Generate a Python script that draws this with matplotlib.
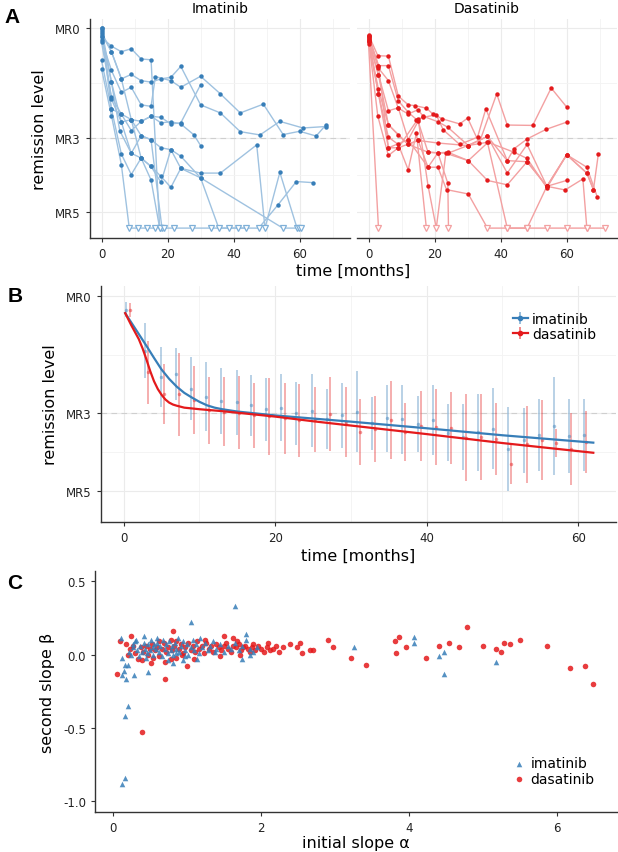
import numpy as np
import matplotlib.pyplot as plt
from matplotlib.lines import Line2D

plt.rcParams['font.family'] = ['DejaVu Sans']
plt.rcParams['axes.unicode_minus'] = False

U = 5.45  # level used for "below detection" samples (open triangles)

# ---- panel A: individual patient courses (months, remission level) ----
im_t = [
    [0, 3, 6, 9, 12, 15, 17.6],
    [0, 3, 6, 9, 12, 15, 18, 21, 24, 30, 36, 42, 48, 54, 61, 68],
    [0, 3, 6, 9, 12, 15, 16.3, 21, 24, 30, 36, 42, 49, 55, 60, 65, 68],
    [0, 3, 6, 9, 12, 15, 18, 21, 24, 28, 30],
    [0, 3, 5.5, 9, 12, 15, 18, 21, 24, 30, 35.5, 38.5, 41.2, 43.9],
    [0, 3, 6, 9, 12, 15, 18, 21, 24, 30, 36, 47, 49.5, 54, 59.2],
    [0, 3, 6, 8.4, 11.1, 13.9, 16.3],
    [0, 3, 6, 9, 12, 15, 18.3, 21.9, 27.4, 33.2, 47.6, 53.4, 59, 64],
    [0, 3, 6, 9, 12, 15, 18, 21, 24, 30],
    [0, 3, 6, 9, 12, 15, 17.6, 18.9],
    [0, 3, 6, 9, 12, 15, 18, 21, 24, 30, 54.9, 59.9, 60.4],
]
im_y = [
    [0.25, 0.49, 0.64, 0.56, 0.84, 0.86, U],
    [0.11, 0.64, 1.38, 1.26, 1.43, 1.47, 1.38, 1.34, 1.04, 2.09, 2.31, 2.82, 2.91, 2.54, 2.72, 2.68],
    [0.31, 1.15, 1.75, 1.61, 2.09, 2.13, 1.32, 1.43, 1.61, 1.31, 1.79, 2.31, 2.07, 2.90, 2.81, 2.94, 2.63],
    [0.38, 1.88, 2.34, 2.49, 2.54, 2.40, 2.58, 2.55, 2.61, 2.91, 3.20],
    [0.00, 1.47, 2.79, 3.41, 2.93, 3.04, 3.26, 3.31, 3.49, 4.08, U, U, U, U],
    [0.88, 2.20, 3.43, 3.99, 3.54, 3.77, 4.04, 4.34, 3.82, 3.95, 3.95, 3.18, U, 3.93, U],
    [1.11, 2.38, 3.72, U, U, U, U],
    [0.05, 1.93, 2.56, 2.49, 2.93, 3.04, U, U, U, U, U, 4.82, 4.18, 4.21],
    [0.00, 2.20, 2.34, 2.79, 2.54, 2.40, 2.43, 2.61, 2.58, 1.54],
    [0.15, 0.64, 1.38, 2.49, 3.54, 4.14, U, U],
    [0.20, 1.47, 2.56, 3.41, 3.54, 3.77, 4.20, 3.31, 3.82, 4.08, U, U, U],
]

da_t = [
    [0, 2.8, 6, 9, 12, 14, 17.5, 19.5, 22.3, 27.6, 30, 33.5, 38.8, 42, 49.7, 55.3, 60],
    [0, 3, 6, 9, 12, 14.5, 16.5, 20.5, 22.6, 27.6, 33, 35.5, 42, 44, 48, 53.7, 60],
    [0, 3, 6, 9, 12, 15, 16.5, 21, 24, 30.2, 36, 42, 48, 54, 60, 66.1, 69.3],
    [0, 3, 6, 9, 12, 15, 18, 21, 24, 30.2, 36.2, 44, 48, 54, 60, 66.1, 68.1, 69.6],
    [0, 3, 6, 9, 12, 15, 18, 21, 23.6, 30.2, 36, 42, 48, 54, 60, 66.1, 71.7],
    [0, 3, 6, 9, 12, 14.5, 17.5],
    [0, 3],
    [0, 2.8, 6, 9, 15, 18, 20.5, 23.4, 30.2, 36, 42, 48, 54, 60],
    [0, 3, 6, 12, 18, 21, 24, 24.2],
    [0, 3, 6, 9, 15, 21, 30, 36, 42, 48, 54, 59.5, 64.9, 66.1],
    [0, 3, 6, 12, 18, 24, 30, 36, 42, 48, 54, 60, 66.1, 68.1],
]
da_y = [
    [0.18, 0.75, 0.76, 1.85, 2.09, 2.11, 2.18, 2.34, 2.47, 2.61, 2.45, 3.13, 1.79, 2.64, 2.65, 1.63, 2.15],
    [0.22, 1.02, 1.02, 1.98, 2.29, 2.49, 2.43, 2.36, 2.77, 3.17, 2.97, 2.20, 3.61, 3.29, 3.02, 2.76, 2.56],
    [0.25, 1.09, 1.43, 2.18, 2.34, 2.22, 2.40, 2.55, 2.70, 3.20, 2.95, 3.95, 3.17, 4.31, 3.45, 3.79, 4.61],
    [0.29, 1.27, 2.25, 2.17, 3.04, 2.54, 3.38, 3.40, 3.38, 3.61, 3.11, 3.38, 3.55, 4.35, 3.45, 3.95, 4.40, 3.42],
    [0.34, 1.67, 2.63, 2.91, 3.17, 3.06, 3.79, 3.79, 4.40, 4.52, U, U, U, U, U, U, U],
    [0.38, 1.79, 2.97, 3.17, 3.86, 2.86, U],
    [0.43, U],
    [0.31, 2.40, 3.47, 3.26, 2.47, 4.29, U, 3.41, 3.61, 4.15, 4.27, 3.64, 4.31, 4.15],
    [0.20, 1.02, 3.26, 3.04, 3.79, 3.40, 4.23, U],
    [0.28, 1.79, 3.26, 3.26, 3.06, 3.13, 3.20, 3.11, U, U, 4.31, 4.41, 4.11, U],
    [0.36, 1.27, 2.63, 3.17, 3.38, 3.41, 3.20, 2.95, 3.61, 3.64, 4.31, 3.45, 3.95, 4.40],
]

# ---- panel B: binned mean +/- sd and fitted course ----
b_im_t = [0.35, 2.86, 4.93, 6.87, 8.85, 10.9, 12.9, 14.9, 16.8, 18.8, 20.8, 22.8, 24.8,
          26.8, 28.8, 30.8, 32.8, 34.8, 36.8, 38.8, 40.8, 42.8, 44.8, 46.8, 48.8,
          50.8, 52.8, 54.8, 56.8, 58.8, 60.8]
b_im_m = [0.34, 1.40, 2.07, 2.00, 2.37, 2.58, 2.69, 2.72, 2.80, 2.90, 2.86, 3.00, 2.94,
          3.16, 3.06, 2.97, 3.26, 3.13, 3.16, 3.27, 3.19, 3.50, 3.62, 3.49, 3.40,
          3.92, 3.70, 3.56, 3.32, 3.59, 3.56]
b_im_sd = [0.19, 0.71, 0.77, 0.67, 0.81, 0.89, 0.84, 0.84, 0.78, 0.81, 0.87, 0.81, 0.94,
           0.77, 0.84, 1.04, 0.68, 0.86, 0.89, 0.72, 0.90, 0.73, 0.85, 0.99, 1.04,
           1.08, 0.84, 0.93, 1.26, 0.94, 0.93]
b_da_t = [0.88, 3.21, 5.28, 7.31, 9.25, 11.27, 13.25, 15.24, 17.17, 19.19, 21.26, 23.16, 25.2,
          27.3, 29.3, 31.2, 33.2, 35.3, 37.2, 39.2, 41.2, 43.2, 45.2, 47.2, 49.2,
          51.2, 53.2, 55.2, 57.1, 59.1, 61.1]
b_da_m = [0.36, 1.95, 2.50, 2.52, 2.66, 2.93, 2.96, 2.99, 3.06, 3.08, 3.13, 3.19, 3.16,
          3.02, 3.23, 3.49, 3.42, 3.17, 3.49, 3.32, 3.36, 3.38, 3.63, 3.62, 3.66,
          4.32, 3.80, 3.70, 3.77, 3.93, 3.74]
b_da_sd = [0.18, 0.81, 0.77, 1.06, 0.87, 0.86, 0.89, 0.94, 0.83, 0.99, 0.91, 0.94, 0.84,
           0.96, 0.90, 0.84, 0.85, 1.00, 0.74, 0.90, 0.98, 0.93, 1.11, 1.10, 0.93,
           0.51, 0.99, 1.03, 0.35, 0.92, 0.79]

fit_im_t = [0.2, 1, 2, 3, 4, 5, 6, 7, 8, 9, 10, 11, 12, 13, 15, 17, 20, 25, 30, 40, 50, 62]
fit_im_y = [0.43, 0.67, 0.97, 1.27, 1.58, 1.88, 2.12, 2.32, 2.48, 2.60, 2.71, 2.80, 2.86,
            2.90, 2.96, 3.00, 3.06, 3.14, 3.22, 3.39, 3.57, 3.76]
fit_da_t = [0.2, 1, 2, 2.5, 3, 3.5, 4, 4.5, 5, 5.5, 6, 6.5, 7, 8, 10, 13, 17, 20, 25, 30, 40, 50, 62]
fit_da_y = [0.43, 0.74, 1.10, 1.34, 1.62, 1.92, 2.18, 2.38, 2.53, 2.65, 2.73, 2.78, 2.81,
            2.86, 2.90, 2.95, 3.03, 3.09, 3.21, 3.32, 3.54, 3.77, 4.02]

# ---- panel C: per-patient slopes ----
c_im_a = [1.65, 1.05, 0.20, 0.17, 0.17, 0.13, 0.15, 0.18, 0.12, 0.29, 0.48, 1.80, 1.75, 1.86,
          0.16, 0.11, 0.42, 0.21, 0.12, 0.81, 0.95, 1.14, 3.26, 4.07, 4.07, 4.40, 4.47, 4.47, 5.17,
          0.22, 0.25, 0.28, 0.30, 0.33, 0.35, 0.37, 0.40, 0.42, 0.44, 0.46, 0.48, 0.50, 0.52,
          0.54, 0.55, 0.58, 0.60, 0.62, 0.64, 0.66, 0.68, 0.70, 0.72, 0.74, 0.76, 0.78, 0.80,
          0.82, 0.84, 0.86, 0.88, 0.90, 0.92, 0.95, 0.98, 1.00, 1.02, 1.05, 1.08, 1.10, 1.13,
          1.16, 1.20, 1.24, 1.28, 1.32, 1.36, 1.40, 1.45, 1.50, 1.55, 1.60, 1.65, 1.70, 1.75,
          1.80, 1.85, 1.90, 1.95, 0.60, 0.45, 0.32, 0.27, 0.98, 1.18, 0.74, 0.56, 0.86, 1.38]
c_im_b = [0.33, 0.22, -0.35, -0.42, -0.84, -0.88, -0.11, -0.17, -0.14, -0.14, -0.12, 0.14, -0.03, 0.00,
          -0.07, 0.11, 0.13, -0.07, -0.02, -0.06, -0.04, -0.03, 0.05, 0.12, 0.08, -0.01, 0.02, -0.13, -0.05,
          0.02, 0.00, 0.05, 0.09, 0.03, -0.01, 0.06, 0.02, 0.08, 0.04, 0.01, 0.07, 0.03, 0.10,
          0.05, 0.00, 0.04, 0.08, 0.02, 0.06, -0.01, 0.10, 0.04, 0.07, 0.01, 0.09, 0.03, 0.06,
          0.00, 0.08, 0.04, 0.11, 0.02, 0.06, 0.09, 0.03, 0.07, 0.00, 0.05, 0.10, 0.03, 0.07,
          0.01, 0.05, 0.08, 0.03, 0.06, 0.09, 0.04, 0.07, 0.02, 0.06, 0.04, 0.08, 0.03, 0.06,
          0.10, 0.04, 0.02, 0.05, 0.11, -0.02, 0.10, 0.07, -0.01, 0.11, -0.04, 0.07, 0.01, 0.02]
c_da_a = [0.06, 0.39, 0.71, 0.82, 0.10, 0.25, 0.18, 2.49, 2.39, 2.30, 1.00, 0.52, 1.50, 1.62, 0.79,
          2.53, 2.56, 2.66, 2.70, 2.91, 2.97, 3.22, 3.42, 3.81, 3.87, 3.82, 3.96, 4.23, 4.40, 4.54,
          4.68, 4.79, 5.00, 5.17, 5.25, 5.29, 5.36, 5.50, 5.86, 6.17, 6.38, 6.49,
          0.20, 0.23, 0.30, 0.34, 0.38, 0.41, 0.45, 0.48, 0.50, 0.53, 0.57, 0.60, 0.63, 0.66,
          0.69, 0.72, 0.75, 0.78, 0.80, 0.83, 0.86, 0.89, 0.92, 0.95, 0.98, 1.02, 1.05, 1.08,
          1.11, 1.14, 1.17, 1.20, 1.23, 1.26, 1.30, 1.33, 1.36, 1.40, 1.43, 1.46, 1.50, 1.53,
          1.56, 1.60, 1.63, 1.66, 1.70, 1.73, 1.76, 1.79, 1.82, 1.85, 1.88, 1.92, 1.96, 2.00,
          2.04, 2.08, 2.12, 2.16, 2.20, 2.25, 1.25, 1.10, 0.62, 0.70, 0.93, 0.55, 1.68, 1.90,
          1.45, 0.85, 0.40, 0.27, 1.72, 2.10]
c_da_b = [-0.13, -0.53, -0.17, 0.16, 0.09, 0.13, 0.07, 0.05, 0.07, 0.05, -0.08, -0.06, 0.13, 0.11, -0.03,
          0.08, 0.01, 0.03, 0.03, 0.10, 0.05, -0.02, -0.07, 0.09, 0.12, 0.01, 0.05, -0.02, 0.06, 0.08,
          0.05, 0.19, 0.06, 0.04, 0.02, 0.08, 0.07, 0.10, 0.06, -0.09, -0.08, -0.20,
          0.00, 0.04, 0.01, -0.03, 0.05, 0.02, 0.06, 0.00, 0.04, 0.07, 0.03, 0.05, -0.01, 0.04,
          0.08, 0.02, 0.05, 0.10, 0.03, 0.06, -0.02, 0.04, 0.07, 0.01, 0.05, 0.08, 0.03, 0.06,
          0.02, 0.09, 0.04, 0.06, 0.01, 0.08, 0.04, 0.06, 0.02, 0.07, 0.05, 0.03, 0.06, 0.08,
          0.04, 0.02, 0.06, 0.05, 0.07, 0.03, 0.05, 0.06, 0.04, 0.02, 0.05, 0.03, 0.06, 0.04,
          0.02, 0.05, 0.03, 0.04, 0.06, 0.02, 0.10, -0.03, 0.09, -0.05, 0.00, -0.02, 0.09, 0.07,
          -0.01, 0.09, -0.04, 0.06, 0.00, 0.08]

BLUE = '#377eb8'
RED = '#e41a1c'
GRID = '#ebebeb'
AXC = '#333333'

fig = plt.figure(figsize=(6.18, 8.53), dpi=100)


def style_axes(ax, grid=True):
    for s in ['top', 'right']:
        ax.spines[s].set_visible(False)
    for s in ['left', 'bottom']:
        ax.spines[s].set_color(AXC)
        ax.spines[s].set_linewidth(1.0)
    ax.tick_params(which='major', length=3, color=AXC, labelsize=8.5, labelcolor='#222222')
    ax.tick_params(which='minor', length=0)
    if grid:
        ax.grid(True, which='major', color=GRID, lw=0.8)
        ax.grid(True, which='minor', color='#f3f3f3', lw=0.6)
        ax.set_axisbelow(True)


def level_axis(ax, labels=True):
    ax.set_yticks([0, 3, 5])
    ax.set_yticks([1.5, 4], minor=True)
    if labels:
        ax.set_yticklabels(['MR0', 'MR3', 'MR5'])
    else:
        ax.set_yticklabels([])
    ax.axhline(3, color='#cfcfcf', lw=0.8, ls=(0, (5, 4)), zorder=1)


# ---- A ----
axA = []
for i, (left, ts, ys, dark, light, title) in enumerate([
        (0.1456, im_t, im_y, BLUE, '#9fc2e0', 'Imatinib'),
        (0.5777, da_t, da_y, RED, '#f3a0a1', 'Dasatinib')]):
    ax = fig.add_axes([left, 0.7198, 0.4205, 0.2567])
    style_axes(ax)
    for t, y in zip(ts, ys):
        t = np.array(t, float)
        y = np.array(y, float)
        ax.plot(t, y, color=light, lw=1.0, zorder=2)
        det = y < U
        ax.plot(t[det], y[det], 'o', ms=3.2, color=dark, mec='none', zorder=3)
        ax.plot(t[~det], y[~det], 'v', ms=5, mfc='white', mec=light if i else '#7fb0d8',
                mew=0.9, zorder=3)
    ax.set_xlim(-3.5, 75.2)
    ax.set_ylim(5.72, -0.25)
    ax.set_xticks([0, 20, 40, 60])
    ax.set_xticks([10, 30, 50, 70], minor=True)
    level_axis(ax, labels=(i == 0))
    ax.set_title(title, fontsize=10, pad=5)
    if i == 1:
        ax.spines['left'].set_visible(False)
        ax.tick_params(axis='y', which='both', length=0)
    axA.append(ax)
axA[0].set_ylabel('remission level', fontsize=11.5, labelpad=6)
fig.text(0.572, 0.6825, 'time [months]', ha='center', va='center', fontsize=11.5)

# ---- B ----
axB = fig.add_axes([0.1634, 0.3869, 0.8334, 0.2767])
style_axes(axB)
eb1 = axB.errorbar(b_im_t, b_im_m, yerr=b_im_sd, fmt='o', ms=2.5, color=BLUE,
                   ecolor=BLUE, elinewidth=1.1, alpha=0.45, mec='none', zorder=2)
eb2 = axB.errorbar(b_da_t, b_da_m, yerr=b_da_sd, fmt='o', ms=2.5, color=RED,
                   ecolor=RED, elinewidth=1.1, alpha=0.45, mec='none', zorder=2)
l1, = axB.plot(fit_im_t, fit_im_y, color=BLUE, lw=1.6, zorder=4)
l2, = axB.plot(fit_da_t, fit_da_y, color=RED, lw=1.6, zorder=4)
axB.set_xlim(-3.0, 65.0)
axB.set_ylim(5.8, -0.27)
axB.set_xticks([0, 20, 40, 60])
axB.set_xticks([10, 30, 50], minor=True)
level_axis(axB)
axB.set_ylabel('remission level', fontsize=11.5, labelpad=6)
axB.set_xlabel('time [months]', fontsize=11.5, labelpad=3)
h1 = (Line2D([], [], color=BLUE, lw=1.6),
      Line2D([], [], color=BLUE, marker='|', ms=9, mew=1.2, lw=0, alpha=0.6),
      Line2D([], [], color=BLUE, marker='o', ms=3, lw=0))
h2 = (Line2D([], [], color=RED, lw=1.6),
      Line2D([], [], color=RED, marker='|', ms=9, mew=1.2, lw=0, alpha=0.6),
      Line2D([], [], color=RED, marker='o', ms=3, lw=0))
axB.legend([h1, h2], ['imatinib', 'dasatinib'], loc='upper right',
           bbox_to_anchor=(0.975, 0.92), frameon=False, fontsize=10,
           handlelength=1.1, handletextpad=0.3, labelspacing=0.1, borderpad=0)

# ---- C ----
axC = fig.add_axes([0.1537, 0.0469, 0.8447, 0.2825])
style_axes(axC, grid=False)
axC.scatter(c_im_a, c_im_b, marker='^', s=16, color=BLUE, alpha=0.85, lw=0,
            label='imatinib', zorder=3)
axC.scatter(c_da_a, c_da_b, marker='o', s=16, color=RED, alpha=0.85, lw=0,
            label='dasatinib', zorder=2)
axC.set_xlim(-0.24, 6.81)
axC.set_ylim(-1.074, 0.57)
axC.set_xticks([0, 2, 4, 6])
axC.set_yticks([0.5, 0.0, -0.5, -1.0])
axC.set_yticklabels(['0.5', '0.0', '-0.5', '-1.0'])
axC.set_xlabel('initial slope α', fontsize=11.5, labelpad=1)
axC.set_ylabel('second slope β', fontsize=11.5, labelpad=6)
axC.legend(loc='lower right', bbox_to_anchor=(0.97, 0.08), frameon=False,
           fontsize=10, handlelength=0.8, handletextpad=0.4, labelspacing=0.1,
           borderpad=0, scatterpoints=1)

# panel letters
for x, y, s in [(0.008, 0.980, 'A'), (0.012, 0.652, 'B'), (0.012, 0.316, 'C')]:
    fig.text(x, y, s, fontsize=15, fontweight='bold', family='Liberation Sans',
             ha='left', va='center')

fig.savefig('out.png', dpi=100)
